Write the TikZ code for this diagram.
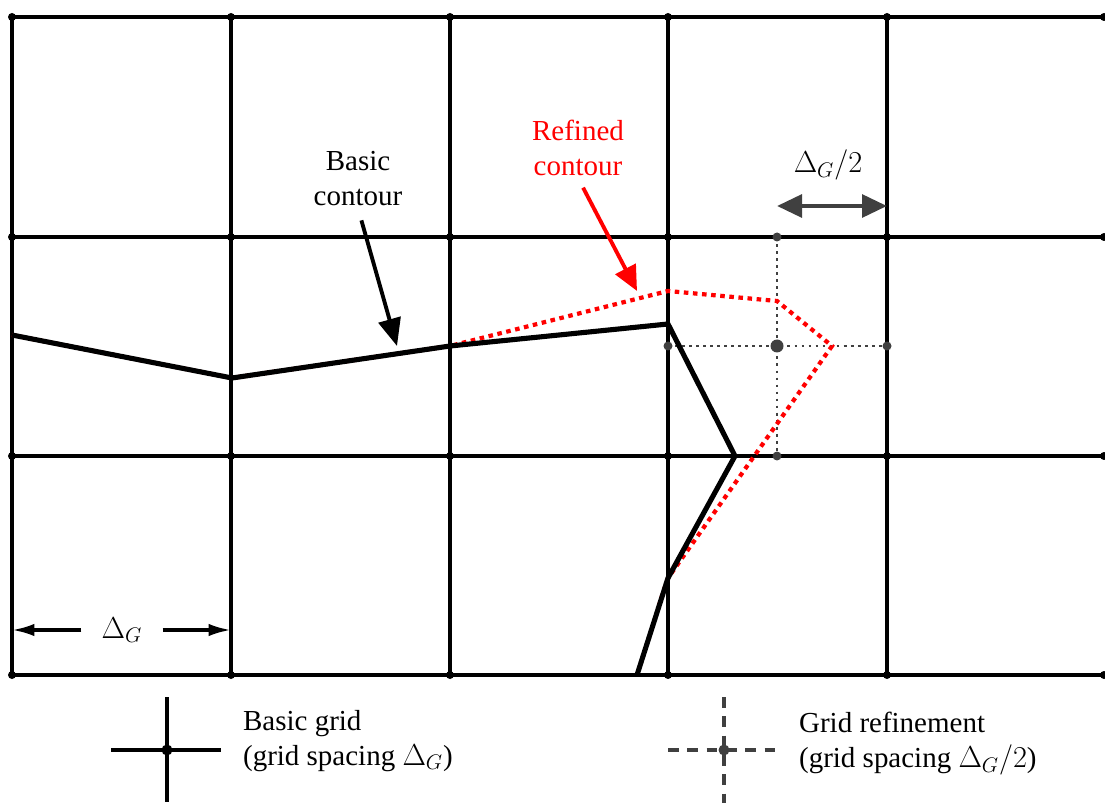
\documentclass[tikz,border=0pt]{standalone}
\usepackage{fontspec}
\setmainfont{Liberation Serif}
\usetikzlibrary{arrows.meta, positioning}
\definecolor{refgray}{RGB}{64,64,64}
\definecolor{refred}{RGB}{255,0,0}

\begin{document}
\begin{tikzpicture}[
  x=0.02cm, y=-0.02cm,
  txt/.style={font=\fontsize{16.5}{19.9}\selectfont, align=center, inner sep=1pt},
  gline/.style={line width=1.9pt, black},
  rline/.style={line width=1.5pt, refgray, dash pattern=on 1.6pt off 2.4pt},
  dline/.style={line width=2pt, refgray, dash pattern=on 6pt off 5pt},
  bcont/.style={line width=2.9pt, black, line join=miter},
  rcont/.style={line width=2.4pt, refred, dash pattern=on 2.6pt off 2.6pt},
  arr/.style={line width=2.2pt, -{Triangle[length=0.55cm, width=0.45cm]}},
  rarr/.style={line width=2.2pt, refred, -{Triangle[length=0.5cm, width=0.45cm]}},
  garr/.style={line width=2.6pt, refgray, {Triangle[length=0.5cm, width=0.45cm]}-{Triangle[length=0.5cm, width=0.45cm]}},
  darr/.style={line width=1.9pt, -{Latex[length=0.45cm, width=0.25cm]}}
]
\useasboundingbox (0,0) rectangle (1105,803);

%% ---- Basic grid ----
\foreach \x in {12,231,450,668,887}
  \draw[gline] (\x,17) -- (\x,675);
\foreach \y in {17,237,456,675}
  \draw[gline] (12,\y) -- (1104,\y);
\foreach \x in {12,231,450,668,887,1104}
  \foreach \y in {17,237,456,675}
    \fill (\x,\y) circle[radius=0.08cm];

%% ---- Grid refinement ----
\draw[rline] (777,237) -- (777,456);
\draw[rline] (668,346) -- (887,346);
\fill[refgray] (777,237) circle[radius=0.09cm] (777,456) circle[radius=0.09cm]
  (668,346) circle[radius=0.09cm] (887,346) circle[radius=0.09cm]
  (777,346) circle[radius=0.13cm];

%% ---- Contours ----
\coordinate (c0) at (12,335);
\coordinate (c1) at (232,378);
\coordinate (c2) at (450,346);
\coordinate (c3) at (668,324);
\coordinate (c4) at (735,456);
\coordinate (c5) at (668,578);
\coordinate (c6) at (637,675);
\coordinate (r3) at (668,291);
\coordinate (r4) at (777,301);
\coordinate (r5) at (832,346);
\coordinate (r6) at (659,605);

\draw[rcont] (c0) -- (c1) -- (c2) -- (r3) -- (r4) -- (r5) -- (c5) -- (r6);
\draw[bcont] (c0) -- (c1) -- (c2) -- (c3) -- (c4) -- (c5) -- (c6);

%% ---- Labels ----
\node[txt] (basiclbl) at (358,179) {Basic\\contour};
\coordinate (basictip) at (397,346);
\draw[arr, shorten <=0.25cm] (basiclbl.south) -- (basictip);

\node[txt, text=refred] (reflbl) at (578,148) {Refined\\contour};
\coordinate (reftip) at (637,291);
\draw[rarr, shorten <=0.22cm] (reflbl.south) -- (reftip);

\coordinate (hl) at (777,206);
\coordinate (hr) at (887,206);
\draw[garr] (hl) -- (hr);
\node[txt] (halflbl) at (828,165) {$\Delta_G/2$};

\node[txt, inner xsep=0.4cm] (fulllbl) at (122,630) {$\Delta_G$};
\coordinate (fl) at (12,630);
\coordinate (fr) at (231,630);
\draw[darr] (fulllbl) -- (fl);
\draw[darr] (fulllbl) -- (fr);

%% ---- Legend ----
\coordinate (bleg) at (167,750);
\draw[gline] (167,697) -- (167,802);
\draw[gline] (111,750) -- (221,750);
\fill (bleg) circle[radius=0.11cm];
\node[txt, align=left, anchor=west] (basicleg) at (241,741) {Basic grid\\(grid spacing $\Delta_G$)};

\coordinate (rleg) at (724,750);
\draw[dline] (724,697) -- (724,803);
\draw[dline] (668,750) -- (778,750);
\fill[refgray] (rleg) circle[radius=0.11cm];
\node[txt, align=left, anchor=west] (refleg) at (797,744) {Grid refinement\\(grid spacing $\Delta_G/2$)};

\end{tikzpicture}
\end{document}
